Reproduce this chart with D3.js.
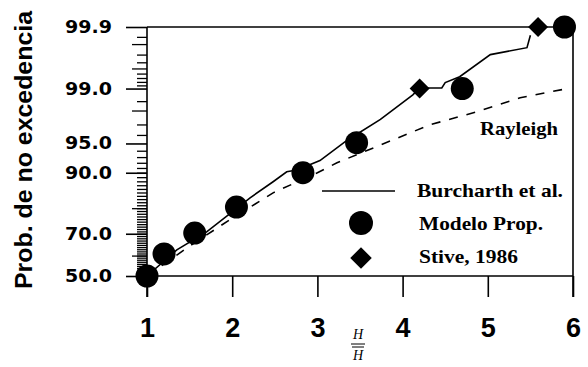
<!DOCTYPE html>
<html>
<head>
<meta charset="utf-8">
<script src="https://cdn.jsdelivr.net/npm/d3@7"></script>
<style>
  body { margin: 0; background: #fff; }
  svg { display: block; }
</style>
</head>
<body>
<svg id="chart" width="588" height="367"></svg>
<script>
// valores (x = H/Hmedia, p = probabilidad en %)
const burcharthX = [1.0, 1.35, 1.70, 2.21, 2.48, 2.64, 2.76, 3.03, 3.35, 3.74, 4.12, 4.20, 4.46, 4.50, 4.67, 5.03, 5.46, 5.50];
const burcharthP = [50.0, 62.7, 70.8, 83.4, 87.9, 90.2, 90.6, 92.4, 95.4, 97.4, 98.77, 99.02, 99.02, 99.18, 99.33, 99.70, 99.77, 99.86];

const rayleighX = [1.0, 1.5, 1.97, 2.48, 3.0, 3.23, 3.74, 4.32, 4.87, 5.38, 5.97];
const rayleighP = [50.0, 64.5, 75.7, 84.9, 90.0, 92.0, 94.8, 96.97, 97.92, 98.65, 99.02];

const modeloX = [1.0, 1.2, 1.56, 2.05, 2.83, 3.46, 4.70, 5.90];
const modeloP = [50.0, 60.8, 70.3, 80.4, 90.0, 95.1, 99.0, 99.9];

const stiveX = [4.20, 5.59];
const stiveP = [99.0, 99.9];

const xTicks = [1, 2, 3, 4, 5, 6];
const yMajor = [50, 70, 90, 95, 99, 99.9];
const yLabels = ['50.0', '70.0', '90.0', '95.0', '99.0', '99.9'];
const yMid = [60, 80, 98, 99.5, 99.8];
const yMinor = d3.range(51, 95).concat([96, 97, 98.5, 99.1, 99.2, 99.3, 99.4, 99.6, 99.7, 99.85]);

// inversa de la normal (Acklam), para el papel probabilistico
function probit(p) {
    const a = [-39.69683028665376, 220.9460984245205, -275.9285104469687, 138.3577518672690, -30.66479806614716, 2.506628277459239];
    const b = [-54.47609879822406, 161.5858368580409, -155.6989798598866, 66.80131188771972, -13.28068155288572];
    const c = [-0.007784894002430293, -0.3223964580411365, -2.400758277161838, -2.549732539343734, 4.374664141464968, 2.938163982698783];
    const d = [0.007784695709041462, 0.3224671290700398, 2.445134137142996, 3.754408661907416];
    const pl = 0.02425;
    let q, r;
    if (p < pl) {
        q = Math.sqrt(-2 * Math.log(p));
        return (((((c[0]*q+c[1])*q+c[2])*q+c[3])*q+c[4])*q+c[5]) / ((((d[0]*q+d[1])*q+d[2])*q+d[3])*q+1);
    }
    if (p > 1 - pl) {
        q = Math.sqrt(-2 * Math.log(1 - p));
        return -(((((c[0]*q+c[1])*q+c[2])*q+c[3])*q+c[4])*q+c[5]) / ((((d[0]*q+d[1])*q+d[2])*q+d[3])*q+1);
    }
    q = p - 0.5;
    r = q * q;
    return (((((a[0]*r+a[1])*r+a[2])*r+a[3])*r+a[4])*r+a[5])*q / (((((b[0]*r+b[1])*r+b[2])*r+b[3])*r+b[4])*r+1);
}
const z = p => probit(p / 100);

const svg = d3.select('#chart');

const x = d3.scaleLinear().domain([1, 6]).range([147, 573]);
const y = d3.scaleLinear().domain([0, z(99.9)]).range([276, 27]);
const yBottom = 297;

// marco: eje x, eje y, linea superior y derecha
const frame = svg.append('g').attr('stroke', '#000').attr('stroke-width', 1.6);
frame.append('line').attr('x1', x(1)).attr('x2', x(6)).attr('y1', y(0)).attr('y2', y(0));
frame.append('line').attr('x1', x(1)).attr('x2', x(6)).attr('y1', y.range()[1]).attr('y2', y.range()[1]);
frame.append('line').attr('x1', x(1)).attr('x2', x(1)).attr('y1', y.range()[1]).attr('y2', yBottom);
frame.append('line').attr('x1', x(6)).attr('x2', x(6)).attr('y1', y.range()[1]).attr('y2', yBottom);

// eje x
const xAxis = svg.append('g')
    .attr('transform', `translate(0,${y(0)})`)
    .call(d3.axisBottom(x).tickValues(xTicks).tickSize(yBottom - y(0)).tickPadding(21).tickFormat(d3.format('d')));
xAxis.select('.domain').remove();
xAxis.selectAll('line').attr('stroke-width', 1.6);
xAxis.selectAll('text')
    .attr('fill', '#000')
    .style('font-family', '"Liberation Sans", Arial, sans-serif')
    .style('font-weight', 'bold')
    .style('font-size', '27px');

// eje y: marcas menores, medias y mayores
const minorAxis = svg.append('g')
    .attr('transform', `translate(${x(1)},0)`)
    .call(d3.axisLeft(y).tickValues(yMinor.map(z)).tickSize(10).tickFormat(''));
minorAxis.select('.domain').remove();
minorAxis.selectAll('line').attr('stroke-width', 1.3);

const midAxis = svg.append('g')
    .attr('transform', `translate(${x(1)},0)`)
    .call(d3.axisLeft(y).tickValues(yMid.map(z)).tickSize(15).tickFormat(''));
midAxis.select('.domain').remove();
midAxis.selectAll('line').attr('stroke-width', 1.3);

const yAxis = svg.append('g')
    .attr('transform', `translate(${x(1)},0)`)
    .call(d3.axisLeft(y).tickValues(yMajor.map(z)).tickSize(21).tickPadding(14)
        .tickFormat((d, i) => yLabels[i]));
yAxis.select('.domain').remove();
yAxis.selectAll('line').attr('stroke-width', 1.6);
yAxis.selectAll('text')
    .attr('fill', '#000')
    .attr('textLength', 47)
    .attr('lengthAdjust', 'spacingAndGlyphs')
    .style('font-family', '"DejaVu Sans", sans-serif')
    .style('font-weight', 'bold')
    .style('font-size', '17px');

// titulo eje y
svg.append('text')
    .attr('transform', 'translate(32,150) rotate(-90)')
    .attr('text-anchor', 'middle')
    .attr('textLength', 278)
    .attr('lengthAdjust', 'spacingAndGlyphs')
    .style('font-family', '"Liberation Sans", Arial, sans-serif')
    .style('font-weight', 'bold')
    .style('font-size', '24px')
    .text('Prob. de no excedencia');

// titulo eje x: H / H con barra
const serif = '"Liberation Serif", "Times New Roman", serif';
const xt = svg.append('g').attr('transform', 'translate(358,0)')
    .style('font-family', serif).style('font-style', 'italic').style('font-size', '14px');
xt.append('text').attr('y', 339).attr('text-anchor', 'middle').text('H');
xt.append('line').attr('x1', -7).attr('x2', 7).attr('y1', 344).attr('y2', 344).attr('stroke', '#000').attr('stroke-width', 1);
xt.append('line').attr('x1', -6).attr('x2', 6).attr('y1', 347).attr('y2', 347).attr('stroke', '#000').attr('stroke-width', 1);
xt.append('text').attr('y', 360).attr('text-anchor', 'middle').text('H');

// lineas
const line = d3.line().x(d => x(d[0])).y(d => y(z(d[1])));
svg.append('path')
    .datum(d3.zip(rayleighX, rayleighP))
    .attr('d', line)
    .attr('fill', 'none').attr('stroke', '#000').attr('stroke-width', 1.6)
    .attr('stroke-dasharray', '9,9');
svg.append('path')
    .datum(d3.zip(burcharthX, burcharthP))
    .attr('d', line)
    .attr('fill', 'none').attr('stroke', '#000').attr('stroke-width', 1.6);

// puntos
svg.append('g').selectAll('circle')
    .data(d3.zip(modeloX, modeloP))
    .join('circle')
    .attr('cx', d => x(d[0])).attr('cy', d => y(z(d[1])))
    .attr('r', 11.5).attr('fill', '#000');

const diamond = d3.symbol().type(d3.symbolSquare).size(200);
svg.append('g').selectAll('path')
    .data(d3.zip(stiveX, stiveP))
    .join('path')
    .attr('d', diamond)
    .attr('transform', d => `translate(${x(d[0])},${y(z(d[1]))}) rotate(45)`)
    .attr('fill', '#000');

// leyenda
const legend = svg.append('g')
    .style('font-family', serif).style('font-weight', 'bold').style('font-size', '19px');
legend.append('line').attr('x1', 322).attr('x2', 395).attr('y1', 191).attr('y2', 191)
    .attr('stroke', '#000').attr('stroke-width', 1.6);
legend.append('circle').attr('cx', 361).attr('cy', 223).attr('r', 12).attr('fill', '#000');
legend.append('path').attr('d', d3.symbol().type(d3.symbolSquare).size(230))
    .attr('transform', 'translate(361,258) rotate(45)').attr('fill', '#000');

const legendItems = [
    { text: 'Rayleigh', x: 480, y: 135, w: 78 },
    { text: 'Burcharth et al.', x: 417, y: 197, w: 146 },
    { text: 'Modelo Prop.', x: 419, y: 230, w: 124 },
    { text: 'Stive, 1986', x: 419, y: 263, w: 99 }
];
legend.selectAll('text')
    .data(legendItems)
    .join('text')
    .attr('x', d => d.x).attr('y', d => d.y)
    .attr('textLength', d => d.w)
    .attr('lengthAdjust', 'spacingAndGlyphs')
    .text(d => d.text);
</script>
</body>
</html>
